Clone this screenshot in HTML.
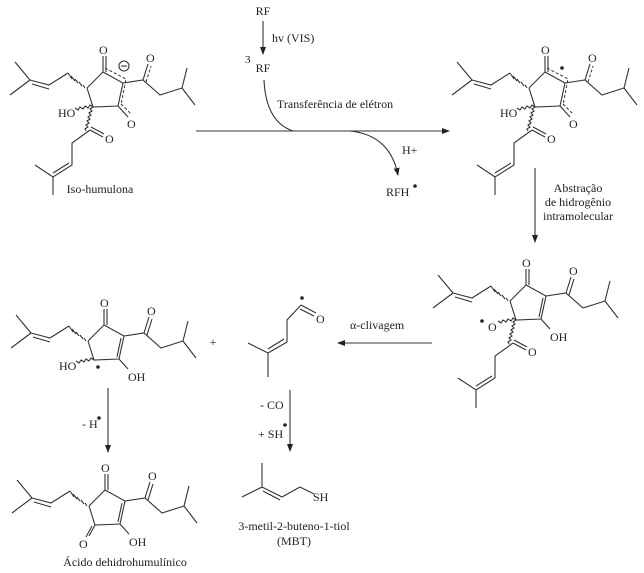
<!DOCTYPE html>
<html><head><meta charset="utf-8"><style>
html,body{margin:0;padding:0;background:#fff;}
svg{display:block;}
text{fill:#222;font-size:12px;font-family:"Liberation Serif","Times New Roman",Times,serif;}
.b{stroke:#333;stroke-width:1.1;fill:none;}
.d{stroke:#333;stroke-width:1;fill:none;stroke-dasharray:3,2;}
</style></head><body>
<svg width="644" height="573" viewBox="0 0 644 573" xmlns="http://www.w3.org/2000/svg" font-family="Liberation Serif, serif">
<defs>
<marker id="ah" markerWidth="8" markerHeight="8" refX="7" refY="3" orient="auto" markerUnits="userSpaceOnUse"><path d="M0,0 L8,3 L0,6 Z" fill="#222"/></marker>
</defs>

<!-- Molecule 1 -->
<g transform="translate(103,72)">
 <path class="b" d="M0,0 L0,-16 M3,0 L3,-16"/>
 <text x="-4" y="-18">O</text>
 <path class="b" d="M-16,16 L-10,35 L15,34"/>
 <path class="b" d="M0,0 L-16,16"/>
 <path class="b" d="M-20,13 L-18,16 M-24,10 L-21,14 M-28,7 L-25,11 M-32,4 L-28,9 M-35,1 L-31,7"/>
 <path class="b" d="M-35,1 L-54,13 L-73,8 M-54,17 L-71,12 M-73,8 L-88,-10 M-73,8 L-93,23"/>
 <path class="b" d="M0,0 L20,11 L15,34"/>
 <path class="d" d="M2,-4 L23,7 L18,33"/>
 <circle cx="21" cy="-6" r="5" class="b"/><path class="b" d="M18,-6 L24,-6"/>
 <path class="b" d="M15,34 L25,45"/><path class="d" d="M18,32 L28,42"/>
 <text x="24" y="56">O</text>
 <path class="b" d="M20,11 L40,8 L57,23 L79,16 L84,-4 M79,16 L92,33"/>
 <path class="b" d="M40,8 L45,-8"/><path class="d" d="M43,10 L48,-6"/>
 <text x="43" y="-10">O</text>
 <path class="b" d="M-10,35 l-3,2 l2,2 l-3,2 l2,2 l-3,2 l2,2 l-3,2 l2,2 l-3,2 l2,2 l-3,2 l1,2"/>
 <path class="b" d="M-10,35 l-3,-2 l-2,3 l-3,-2 l-2,3 l-3,-2 l-2,3 l-3,-2"/>
 <text x="-45" y="45">HO</text>
 <path class="b" d="M-13,58 L-31,71 L-31,93 L-50,105 L-68,93 M-50,105 L-50,123 M-34,91 L-50,101"/>
 <path class="b" d="M-13,58 L0,65 M-12,55 L1,62"/>
 <text x="2" y="71">O</text>
</g>
<text x="100" y="193" text-anchor="middle">Iso-humulona</text>

<!-- Molecule 2 -->
<g transform="translate(545,72)">
 <path class="b" d="M0,0 L0,-16 M3,0 L3,-16"/>
 <text x="-4" y="-18">O</text>
 <path class="b" d="M-16,16 L-10,35 L15,34"/>
 <path class="b" d="M0,0 L-16,16"/>
 <path class="b" d="M-20,13 L-18,16 M-24,10 L-21,14 M-28,7 L-25,11 M-32,4 L-28,9 M-35,1 L-31,7"/>
 <path class="b" d="M-35,1 L-54,13 L-73,8 M-54,17 L-71,12 M-73,8 L-88,-10 M-73,8 L-93,23"/>
 <path class="b" d="M0,0 L20,11 L15,34"/>
 <path class="d" d="M2,-4 L23,7 L18,33"/>
 <circle cx="17" cy="-4" r="1.8" fill="#222"/>
 <path class="b" d="M15,34 L25,45"/><path class="d" d="M18,32 L28,42"/>
 <text x="24" y="56">O</text>
 <path class="b" d="M20,11 L40,8 L57,23 L79,16 L84,-4 M79,16 L92,33"/>
 <path class="b" d="M40,8 L45,-8"/><path class="d" d="M43,10 L48,-6"/>
 <text x="43" y="-10">O</text>
 <path class="b" d="M-10,35 l-3,2 l2,2 l-3,2 l2,2 l-3,2 l2,2 l-3,2 l2,2 l-3,2 l2,2 l-3,2 l1,2"/>
 <path class="b" d="M-10,35 l-3,-2 l-2,3 l-3,-2 l-2,3 l-3,-2 l-2,3 l-3,-2"/>
 <text x="-45" y="45">HO</text>
 <path class="b" d="M-13,58 L-31,71 L-31,93 L-50,105 L-68,93 M-50,105 L-50,123 M-34,91 L-50,101"/>
 <path class="b" d="M-13,58 L0,65 M-12,55 L1,62"/>
 <text x="2" y="71">O</text>
</g>

<!-- Molecule 3 -->
<g transform="translate(526,285)">
 <path class="b" d="M0,0 L0,-16 M3,0 L3,-16"/>
 <text x="-4" y="-18">O</text>
 <path class="b" d="M-16,16 L-10,35 L15,34"/>
 <path class="b" d="M0,0 L-16,16"/>
 <path class="b" d="M-20,13 L-18,16 M-24,10 L-21,14 M-28,7 L-25,11 M-32,4 L-28,9 M-35,1 L-31,7"/>
 <path class="b" d="M-35,1 L-54,13 L-73,8 M-54,17 L-71,12 M-73,8 L-88,-10 M-73,8 L-93,23"/>
 <path class="b" d="M0,0 L20,11 L15,34 M17,13 L13,32"/>
 <path class="b" d="M15,34 L24,44"/>
 <text x="24" y="56">OH</text>
 <path class="b" d="M20,11 L40,8 L57,23 L79,16 L84,-4 M79,16 L92,33"/>
 <path class="b" d="M40,8 L45,-8 M43,10 L48,-6"/>
 <text x="43" y="-10">O</text>
 <path class="b" d="M-10,35 l-3,2 l2,2 l-3,2 l2,2 l-3,2 l2,2 l-3,2 l2,2 l-3,2 l2,2 l-3,2 l1,2"/>
 <path class="b" d="M-10,35 l-3,-2 l-2,3 l-3,-2 l-2,3 l-3,-2 l-2,3 l-3,-2"/>
 <text x="-38" y="46">O</text>
 <circle cx="-44" cy="36" r="1.8" fill="#222"/>
 <path class="b" d="M-13,58 L-31,71 L-31,93 L-50,105 L-68,93 M-50,105 L-50,123 M-34,91 L-50,101"/>
 <path class="b" d="M-13,58 L0,65 M-12,55 L1,62"/>
 <text x="2" y="71">O</text>
</g>

<!-- Molecule 4 -->
<g transform="translate(104,325)">
 <path class="b" d="M0,0 L0,-16 M3,0 L3,-16"/>
 <text x="-4" y="-18">O</text>
 <path class="b" d="M-16,16 L-10,35 L15,34"/>
 <path class="b" d="M0,0 L-16,16"/>
 <path class="b" d="M-20,13 L-18,16 M-24,10 L-21,14 M-28,7 L-25,11 M-32,4 L-28,9 M-35,1 L-31,7"/>
 <path class="b" d="M-35,1 L-54,13 L-73,8 M-54,17 L-71,12 M-73,8 L-88,-10 M-73,8 L-93,23"/>
 <path class="b" d="M0,0 L20,11 L15,34 M17,13 L13,32"/>
 <path class="b" d="M15,34 L24,44"/>
 <text x="24" y="56">OH</text>
 <path class="b" d="M20,11 L40,8 L57,23 L79,16 L84,-4 M79,16 L92,33"/>
 <path class="b" d="M40,8 L45,-8 M43,10 L48,-6"/>
 <text x="43" y="-10">O</text>
 <path class="b" d="M-10,35 l-3,-2 l-2,3 l-3,-2 l-2,3 l-3,-2 l-2,3 l-3,-2"/>
 <text x="-45" y="45">HO</text>
 <circle cx="-6" cy="42" r="1.8" fill="#222"/>
</g>

<!-- Molecule 5 -->
<g transform="translate(105,490)">
 <path class="b" d="M0,0 L0,-16 M3,0 L3,-16"/>
 <text x="-4" y="-18">O</text>
 <path class="b" d="M-16,16 L-10,35 L15,34"/>
 <path class="b" d="M0,0 L-16,16"/>
 <path class="b" d="M-20,13 L-18,16 M-24,10 L-21,14 M-28,7 L-25,11 M-32,4 L-28,9 M-35,1 L-31,7"/>
 <path class="b" d="M-35,1 L-54,13 L-73,8 M-54,17 L-71,12 M-73,8 L-88,-10 M-73,8 L-93,23"/>
 <path class="b" d="M0,0 L20,11 L15,34 M17,13 L13,32"/>
 <path class="b" d="M15,34 L24,44"/>
 <text x="24" y="56">OH</text>
 <path class="b" d="M20,11 L40,8 L57,23 L79,16 L84,-4 M79,16 L92,33"/>
 <path class="b" d="M40,8 L45,-8 M43,10 L48,-6"/>
 <text x="43" y="-10">O</text>
 <path class="b" d="M-10,35 L-16,46 M-13,36 L-19,47"/>
 <text x="-26" y="58">O</text>
</g>
<text x="125" y="566" text-anchor="middle">Ácido dehidrohumulínico</text>

<!-- Aldehyde radical -->
<path class="b" d="M301,305 L287,320 L287,342 L268,353 L248,343 M268,353 L268,377 M284,339 L268,349"/>
<path class="b" d="M301,305 L316,313 M300,309 L314,316"/>
<text x="316" y="323">O</text>
<circle cx="302" cy="298" r="1.8" fill="#222"/>
<text x="213" y="346" text-anchor="middle">+</text>

<!-- MBT -->
<path class="b" d="M262,463 L262,487 L242,497 M262,487 L282,497 L300,487 L314,494 M263,491 L280,500"/>
<text x="313" y="501">SH</text>
<text x="294" y="530" text-anchor="middle">3-metil-2-buteno-1-tiol</text>
<text x="294" y="545" text-anchor="middle">(MBT)</text>

<!-- Top reagents & arrows -->
<text x="263" y="15" text-anchor="middle">RF</text>
<path class="b" d="M263,21 L263,54" marker-end="url(#ah)"/>
<text x="272" y="42">hv (VIS)</text>
<text x="245" y="63" style="font-size:11px">3</text>
<text x="263" y="72" text-anchor="middle">RF</text>
<path class="b" d="M264,80 Q266,122 293,131"/>
<text x="277" y="108">Transferência de elétron</text>
<path class="b" d="M196,131 L449,131" marker-end="url(#ah)"/>
<path class="b" d="M350,131 Q390,135 398,175" marker-end="url(#ah)"/>
<text x="402" y="154">H+</text>
<text x="386" y="196">RFH</text>
<circle cx="415" cy="186" r="1.8" fill="#222"/>

<path class="b" d="M535,168 L535,242" marker-end="url(#ah)"/>
<text x="578" y="192" text-anchor="middle">Abstração</text>
<text x="578" y="206" text-anchor="middle">de hidrogênio</text>
<text x="578" y="220" text-anchor="middle">intramolecular</text>

<path class="b" d="M432,343 L338,343" marker-end="url(#ah)"/>
<text x="350" y="329">α-clivagem</text>

<path class="b" d="M108,388 L108,452" marker-end="url(#ah)"/>
<text x="82" y="428">- H</text>
<circle cx="99" cy="418" r="1.8" fill="#222"/>

<path class="b" d="M290,390 L290,451" marker-end="url(#ah)"/>
<text x="260" y="409">- CO</text>
<text x="258" y="438">+ SH</text>
<circle cx="285" cy="425" r="1.8" fill="#222"/>
</svg>
</body></html>
